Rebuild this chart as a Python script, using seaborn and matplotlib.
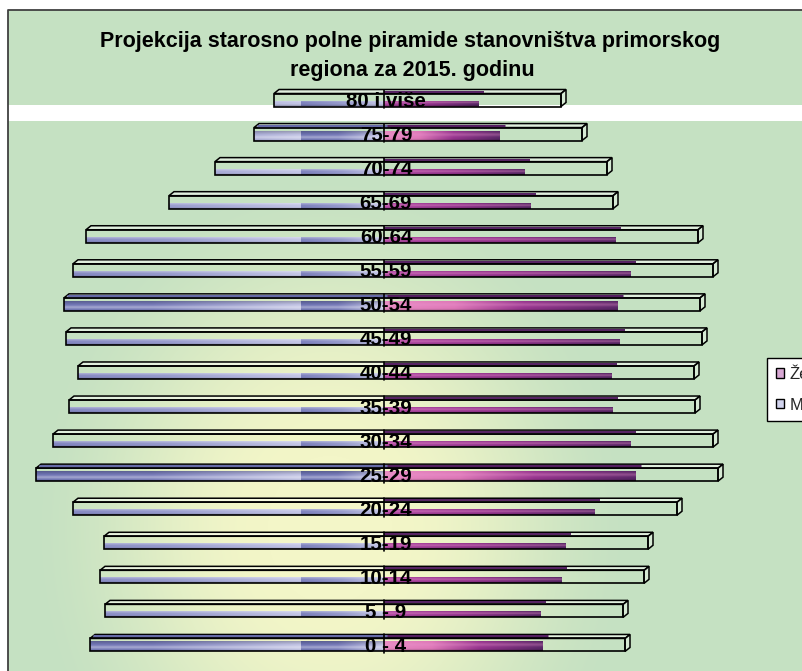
import numpy as np
import pandas as pd
import matplotlib
matplotlib.use("Agg")
import matplotlib.pyplot as plt
import seaborn as sns
from matplotlib.patches import Rectangle, Polygon, Patch

# ---------------- data (arbitrary units) ----------------
age_groups = ["80 i više", "75-79", "70-74", "65-69", "60-64", "55-59", "50-54",
              "45-49", "40-44", "35-39", "30-34", "25-29", "20-24", "15-19",
              "10-14", "5 - 9", "0 - 4"]
male = [1650, 1950, 2535, 3225, 4470, 4665, 4800, 4770, 4590, 4725, 4965, 5220,
        4665, 4200, 4260, 4185, 4410]
female = [1425, 1740, 2115, 2205, 3480, 3705, 3510, 3540, 3420, 3435, 3705, 3780,
          3165, 2730, 2670, 2355, 2385]
series_labels = ["Žene", "Muškarci"]
title_lines = ["Projekcija starosno polne piramide stanovništva primorskog",
               "regiona za 2015. godinu"]

# ---------------- styling / geometry ----------------
sns.set_theme(style="white")
plt.rcParams['font.family'] = ['Liberation Sans', 'DejaVu Sans']

W, H = 802, 671
CX = 384.0             # pixel of the zero line
SX = 15.0              # data units per pixel along x
ROW0, ROWSTEP = 100.0, 34.06
SY = 1.0 / ROWSTEP     # category units per pixel along y
BOX_H = 13 * SY
DX, DY = 5 * SX, -4 * SY
EXT = 82 * SX
n = len(age_groups)
TOP = 10

fig = plt.figure(figsize=(W / 100, H / 100), dpi=100)

# background with gradient
bg = fig.add_axes([0, 0, 1, 1])
xs = np.arange(8, W) + 0.5
ys = np.arange(TOP, H) + 0.5
X, Y = np.meshgrid(xs, ys)
green = np.array([197, 225, 194]) / 255
yellow = np.array([243, 246, 200]) / 255
t = np.sqrt(((X - 330) / 310) ** 2 + ((Y - 530) / 370) ** 2)
f = np.clip((t - 0.2) / 0.8, 0, 1)
f = f * f * (3 - 2 * f)
img = yellow[None, None, :] * (1 - f[..., None]) + green[None, None, :] * f[..., None]
bg.imshow(img, extent=(8, W, H, TOP), origin='upper', aspect='auto', interpolation='bilinear')
bg.add_patch(Rectangle((8, 105), W - 8, 15.7, facecolor='white', edgecolor='none'))
bg.plot([7.5, 7.5, W + 5], [H + 5, TOP - 0.5, TOP - 0.5], color='#404040', lw=1.3)
bg.set_xlim(0, W)
bg.set_ylim(H, 0)
bg.axis('off')

# main axes
ax = fig.add_axes([0, 0, 1, 1])
ax.patch.set_alpha(0)

df = pd.DataFrame({
    'age': age_groups * 2,
    'sex': [series_labels[0]] * n + [series_labels[1]] * n,
    'value': list(female) + [-v for v in male],
})
sns.barplot(data=df, y='age', x='value', hue='sex', order=age_groups,
            hue_order=series_labels, dodge=False, orient='h', width=0.2,
            palette=['#93378f', '#a8acd8'], saturation=1, errorbar=None,
            legend=False, ax=ax)


def lerp_stops(tt, stops):
    pos = np.array([s[0] for s in stops])
    cols = np.array([s[1] for s in stops], dtype=float)
    out = np.stack([np.interp(tt, pos, cols[:, k]) for k in range(3)], axis=-1)
    return out / 255.0


def male_grad(xa, xb, nrows, strong):
    px = CX + np.linspace(xa, xb, max(4, int((xb - xa) / SX))) / SX
    seg = np.where(px < 301, (px - 30) / (301 - 30), (px - 301) / (CX - 301))
    seg = np.clip(seg, 0, 1)
    if strong:
        row = lerp_stops(seg, [(0, (108, 114, 178)), (0.45, (118, 122, 184)), (1, (194, 196, 228))])
    else:
        row = lerp_stops(seg, [(0, (124, 128, 188)), (0.5, (150, 154, 204)), (1, (196, 198, 230))])
    v = np.linspace(0, 1, nrows)[:, None, None]
    im = np.repeat(row[None, :, :], nrows, axis=0)
    if strong:
        dark = np.clip(1 - v / 0.35, 0, 1) * 0.2
        light = np.exp(-((v - 0.62) / 0.15) ** 2) * 0.35
        im = im * (1 - dark) + (1 - im) * light
        im = im * (1 - np.clip((v - 0.85) / 0.15, 0, 1) * 0.2)
    else:
        light = np.clip(1 - v / 0.4, 0, 1) * 0.35
        im = im + (1 - im) * light
        im = im * (1 - np.clip((v - 0.7) / 0.3, 0, 1) * 0.25)
    return np.clip(im, 0, 1)


def female_grad(xa, xb, nrows, strong):
    tt = np.linspace(0, 1, max(4, int((xb - xa) / SX)))
    if strong:
        row = lerp_stops(tt, [(0, (232, 138, 194)), (0.3, (222, 120, 184)),
                              (0.6, (150, 52, 142)), (1, (88, 38, 102))])
    else:
        row = lerp_stops(tt, [(0, (176, 72, 162)), (0.5, (144, 50, 138)), (1, (86, 38, 100))])
    v = np.linspace(0, 1, nrows)[:, None, None]
    im = np.repeat(row[None, :, :], nrows, axis=0)
    pink = np.array([236, 150, 206]) / 255
    hl = np.exp(-((v - 0.35) / 0.18) ** 2) * (0.35 if strong else 0.4)
    im = im * (1 - hl) + pink * hl
    im = im * (1 - np.clip((v - 0.75) / 0.25, 0, 1) * 0.3)
    return np.clip(im, 0, 1)


bar_patches = list(ax.patches)
for p in bar_patches:
    x0, w = p.get_x(), p.get_width()
    xa, xb = min(x0, x0 + w), max(x0, x0 + w)
    if xb - xa <= 0:
        continue
    i = int(round(p.get_y() + p.get_height() / 2))
    strong = (i % 5 == 1)
    hpx = 10 if strong else 6
    bottom = i + BOX_H / 2
    top = bottom - hpx * SY
    p.set_x(xa)
    p.set_width(xb - xa)
    p.set_y(top)
    p.set_height(bottom - top)
    p.set_edgecolor('none')
    nrows = hpx * 4
    is_male = xa < 0
    g = male_grad(xa, xb, nrows, strong) if is_male else female_grad(xa, xb, nrows, strong)
    im = ax.imshow(g, extent=(xa, xb, bottom, top), origin='upper', aspect='auto',
                   interpolation='bilinear', zorder=2.5)
    im.set_clip_path(p)

# 3-D frames, axis marks and labels
for i in range(n):
    L = -male[i]
    R = female[i] + EXT
    ft, fb = i - BOX_H / 2, i + BOX_H / 2
    strong = (i % 5 == 1)
    ax.add_patch(Polygon([(L, ft), (L + DX, ft + DY), (R + DX, ft + DY), (R, ft)],
                         closed=True, facecolor=(1, 1, 1, 0.45), edgecolor='black',
                         lw=1.1, zorder=3.5))
    ax.add_patch(Polygon([(R, ft), (R + DX, ft + DY), (R + DX, fb + DY), (R, fb)],
                         closed=True, facecolor=(1, 1, 1, 0.3), edgecolor='black',
                         lw=1.1, zorder=3.5))
    ax.barh(i, R - L, left=L, height=BOX_H, fill=False, edgecolor='black',
            linewidth=1.2, zorder=4)
    ax.plot([0, female[i] + DX], [ft + DY * 0.5] * 2, color=(0.33, 0.12, 0.38),
            lw=2.2 if strong else 1.4, solid_capstyle='butt', zorder=3.7)
    if strong:
        ax.plot([L + DX * 0.5, DX * 0.5], [ft + DY * 0.5] * 2, color=(0.40, 0.42, 0.66),
                lw=2.2, solid_capstyle='butt', zorder=3.7)
    ax.plot([0, 0], [ft + DY, fb + 1.5 * SY], color='black', lw=1.2, zorder=5)
    ax.text(2 * SX, i + 7 * SY, age_groups[i], ha='center', va='baseline',
            fontsize=14.8, fontweight='bold', color='black', zorder=6)

ax.set_xlim(-CX * SX, (W - CX) * SX)
ax.set_ylim((H - ROW0) * SY, -ROW0 * SY)
ax.axis('off')

# title
fig.text(410 / W, 1 - 47 / H, title_lines[0], ha='center', va='baseline',
         fontsize=15.5, fontweight='bold', color='black')
fig.text(412 / W, 1 - 76 / H, title_lines[1], ha='center', va='baseline',
         fontsize=15.5, fontweight='bold', color='black')

# legend (partly outside the figure, as in the reference)
handles = [Patch(facecolor='#d8a8d4', edgecolor='black', linewidth=1.0),
           Patch(facecolor='#d2d4ee', edgecolor='black', linewidth=1.0)]
leg = fig.legend(handles=handles, labels=series_labels, loc='upper left',
                 bbox_to_anchor=(767 / W, 1 - 358 / H), bbox_transform=fig.transFigure,
                 fontsize=12, frameon=True, fancybox=False, framealpha=1,
                 facecolor='white', edgecolor='black', borderpad=0.52,
                 labelspacing=0.95, handlelength=0.5, handleheight=0.5,
                 handletextpad=0.35, borderaxespad=0)
leg.get_frame().set_linewidth(1.0)

fig.savefig('out.png', dpi=100)
